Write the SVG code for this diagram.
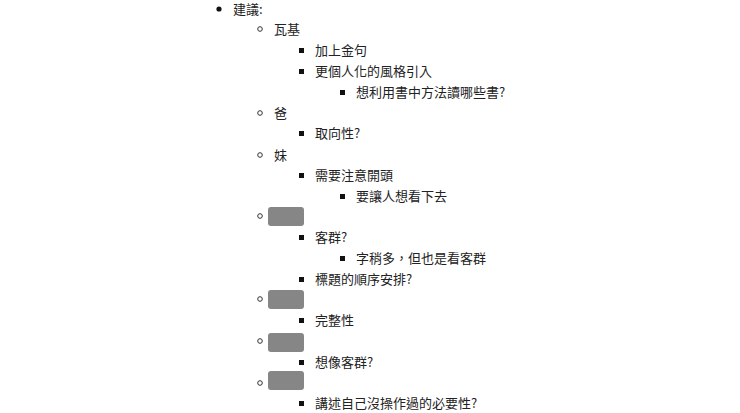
<svg xmlns="http://www.w3.org/2000/svg" width="740" height="413" viewBox="0 0 740 413">
<style>
text{font-family:"Noto Sans CJK TC","Noto Sans",sans-serif;font-size:13px;fill:#222}
.d{fill:#111}.c{fill:none;stroke:#333;stroke-width:1}.s{fill:#111}.g{fill:#868686}
</style>
<rect width="740" height="413" fill="#fff"/>
<g id="l1"><circle class="d" cx="219" cy="9" r="2.6"/><text x="233" y="14">建議:</text></g>
<g id="n1"><circle class="c" cx="260" cy="29" r="2.3"/><text x="274" y="34">瓦基</text>
<rect class="s" x="299" y="48" width="5" height="5"/><text x="315" y="55">加上金句</text>
<rect class="s" x="299" y="69" width="5" height="5"/><text x="315" y="76">更個人化的風格引入</text>
<rect class="s" x="340" y="90" width="5" height="5"/><text x="356" y="97">想利用書中方法讀哪些書?</text></g>
<g id="n2"><circle class="c" cx="260" cy="113" r="2.3"/><text x="274" y="118">爸</text>
<rect class="s" x="299" y="131" width="5" height="5"/><text x="315" y="138">取向性?</text></g>
<g id="n3"><circle class="c" cx="260" cy="155" r="2.3"/><text x="274" y="160">妹</text>
<rect class="s" x="299" y="173" width="5" height="5"/><text x="315" y="180">需要注意開頭</text>
<rect class="s" x="340" y="194" width="5" height="5"/><text x="356" y="201">要讓人想看下去</text></g>
<g id="n4"><circle class="c" cx="260" cy="216" r="2.3"/><rect class="g" x="268" y="207" width="36" height="19" rx="3"/>
<rect class="s" x="299" y="235" width="5" height="5"/><text x="315" y="242">客群?</text>
<rect class="s" x="340" y="256" width="5" height="5"/><text x="356" y="263">字稍多，但也是看客群</text>
<rect class="s" x="299" y="277" width="5" height="5"/><text x="315" y="284">標題的順序安排?</text></g>
<g id="n5"><circle class="c" cx="260" cy="299" r="2.3"/><rect class="g" x="268" y="290" width="36" height="19" rx="3"/>
<rect class="s" x="299" y="318" width="5" height="5"/><text x="315" y="325">完整性</text></g>
<g id="n6"><circle class="c" cx="260" cy="341" r="2.3"/><rect class="g" x="268" y="333" width="36" height="19" rx="3"/>
<rect class="s" x="299" y="360" width="5" height="5"/><text x="315" y="367">想像客群?</text></g>
<g id="n7"><circle class="c" cx="260" cy="383" r="2.3"/><rect class="g" x="268" y="371" width="36" height="19" rx="3"/>
<rect class="s" x="299" y="401" width="5" height="5"/><text x="315" y="408">講述自己沒操作過的必要性?</text></g>
<g id="connectors"/>
</svg>
